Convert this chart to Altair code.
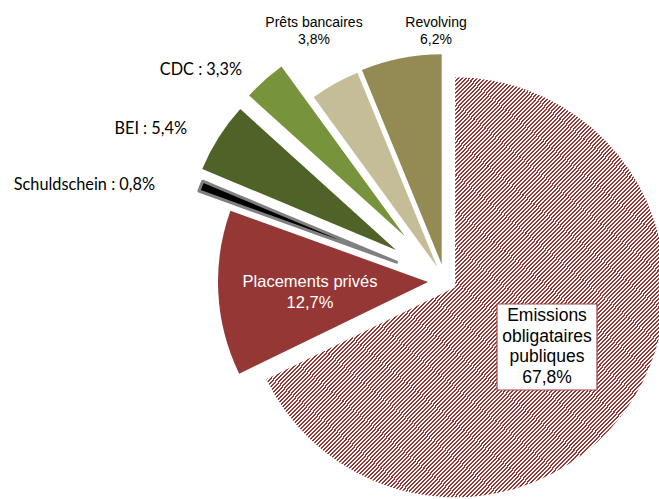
import altair as alt
import pandas as pd

# ---- data ----
names = ["Emissions obligataires publiques", "Placements privés", "Schuldschein",
         "BEI", "CDC", "Prêts bancaires", "Revolving"]
values = [67.8, 12.7, 0.8, 5.4, 3.3, 3.8, 6.2]

# ---- styles ----
colors = ["#953735", "#953735", "#000000", "#4F6228", "#77933C", "#C4BD97", "#948A54"]
explode = [12, 17, 52, 58, 60, 16, 17]          # px offset of each slice
CX, CY, R = 445, 281, 210

def pct(v):
    return f"{v:.1f}".replace(".", ",") + "%"

df = pd.DataFrame({"idx": list(range(len(names))), "name": names,
                   "value": values, "explode": explode})

base = alt.Chart(df).transform_window(
    cum="sum(value)", sort=[alt.SortField("idx")], frame=[None, 0]
).transform_joinaggregate(
    total="sum(value)"
).transform_calculate(
    t0="(datum.cum - datum.value) / datum.total * 2 * PI",
    t1="datum.cum / datum.total * 2 * PI",
).transform_calculate(
    mid="(datum.t0 + datum.t1) / 2"
).transform_calculate(
    cx=f"{CX} + datum.explode * sin(datum.mid)",
    cy=f"{CY} - datum.explode * cos(datum.mid)",
)

pos = dict(
    x=alt.X("cx:Q", scale=None, axis=None),
    y=alt.Y("cy:Q", scale=None, axis=None),
    theta=alt.Theta("t0:Q", scale=None),
    theta2=alt.Theta2("t1:Q"),
)

# hatch pattern emulated with a hard-stop linear gradient
period = 0.0049
stops = []
k = 0
while k * period < 1:
    a = k * period
    b = min(a + period / 2, 1)
    c = min(a + period, 1)
    stops += [alt.GradientStop(color="#953735", offset=a),
              alt.GradientStop(color="#953735", offset=b),
              alt.GradientStop(color="#ffffff", offset=b),
              alt.GradientStop(color="#ffffff", offset=c)]
    k += 1
hatch = alt.Gradient(gradient="linear", stops=stops, x1=0, y1=0, x2=1, y2=1)

big = base.transform_filter("datum.idx == 0").mark_arc(
    outerRadius=R, fill=hatch, strokeWidth=0
).encode(**pos)

solid = base.transform_filter("datum.idx != 0 && datum.idx != 2").mark_arc(
    outerRadius=R, strokeWidth=0
).encode(
    color=alt.Color("name:N", scale=alt.Scale(domain=names, range=colors), legend=None),
    **pos,
)

schuld = base.transform_filter("datum.idx == 2").mark_arc(
    outerRadius=R, fill="#000000", stroke="#808080", strokeWidth=3, strokeJoin="round"
).encode(**pos)

# ---- labels ----
lab_text = [
    "Emissions\nobligataires\npubliques\n" + pct(values[0]),
    "Placements privés\n" + pct(values[1]),
    "Schuldschein : " + pct(values[2]),
    "BEI : " + pct(values[3]),
    "CDC : " + pct(values[4]),
    "Prêts bancaires\n" + pct(values[5]),
    "Revolving\n" + pct(values[6]),
]
# anchor = centre of the first text line
lab_x = [547, 310, 155, 187, 242, 314, 436]
lab_y = [316, 282, 185, 129, 70, 23, 23]

ldf = pd.DataFrame({"t": lab_text, "lx": lab_x, "ly": lab_y, "idx": list(range(7))})
lbase = alt.Chart(ldf)
lpos = dict(x=alt.X("lx:Q", scale=None, axis=None), y=alt.Y("ly:Q", scale=None, axis=None),
            text="t:N")

box = alt.Chart(ldf).transform_filter("datum.idx == 0").mark_rect(
    fill="white", stroke="#A04848", strokeWidth=1.2
).encode(x=alt.value(497), x2=alt.value(597), y=alt.value(304), y2=alt.value(390))

emis_lab = lbase.transform_filter("datum.idx == 0").mark_text(
    font="Liberation Sans", fontSize=17.5, lineBreak="\n", lineHeight=20.5,
    align="center", baseline="middle", color="#000000"
).encode(**lpos)

pp_lab = lbase.transform_filter("datum.idx == 1").mark_text(
    font="Liberation Sans", fontSize=16.5, lineBreak="\n", lineHeight=21,
    align="center", baseline="middle", color="#ffffff"
).encode(**lpos)

side_lab = lbase.transform_filter("datum.idx >= 2 && datum.idx <= 4").mark_text(
    font="Lato", fontSize=16.3, align="right", baseline="middle", color="#000000"
).encode(**lpos)

top_lab = lbase.transform_filter("datum.idx >= 5").mark_text(
    font="Liberation Sans", fontSize=14, lineBreak="\n", lineHeight=17,
    align="center", baseline="middle", color="#000000"
).encode(**lpos)

chart = alt.layer(big, solid, schuld, box, emis_lab, pp_lab, side_lab, top_lab).properties(
    width=659, height=499, autosize=alt.AutoSizeParams(type="none"), padding=0,
    background="white"
).configure_view(stroke=None)

chart.save("out.html", embed_options={"renderer": "svg", "actions": False})
